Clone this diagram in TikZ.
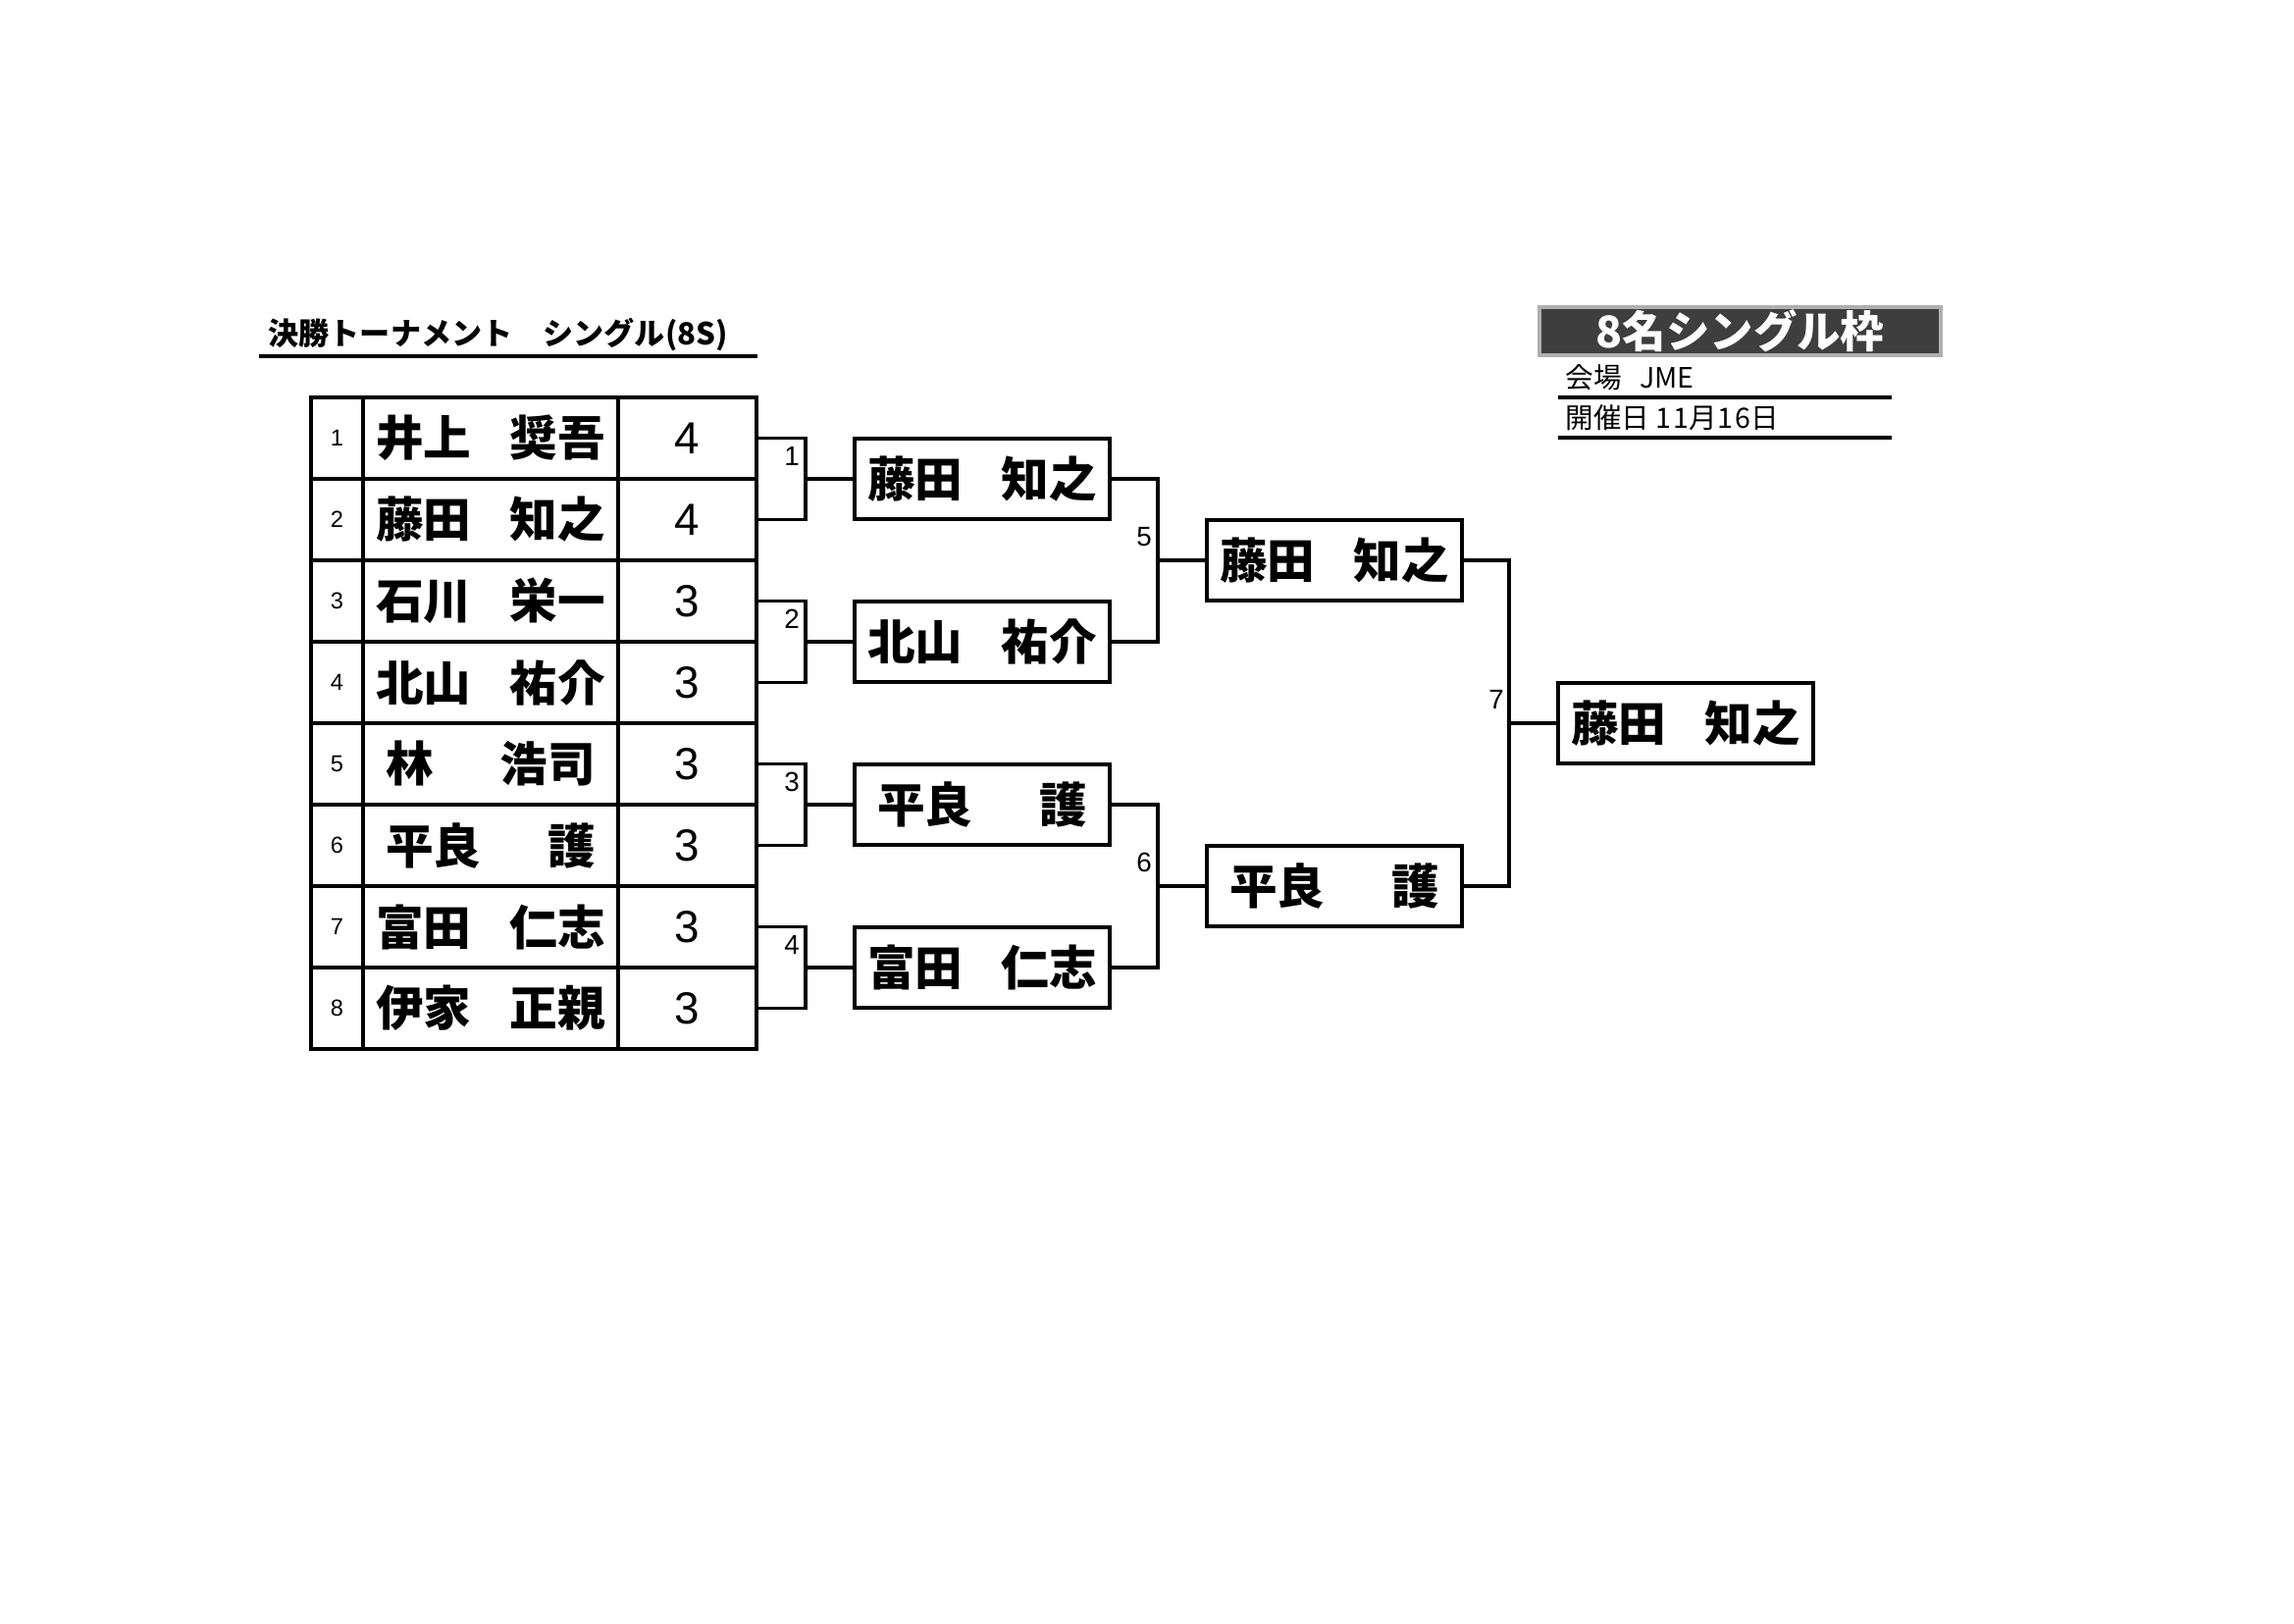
\documentclass[tikz,border=0pt]{standalone}
\usepackage{fontspec}
\setmainfont{Liberation Sans}
\newfontfamily\jp{Noto Sans CJK JP}
\usetikzlibrary{calc}
\definecolor{darkbar}{RGB}{62,62,62}
\definecolor{barborder}{RGB}{175,175,175}
\newcommand{\gap}{\hspace{0.8em}}
\newcommand{\wgap}{\hspace{1.4em}}
\begin{document}
\begin{tikzpicture}[x=0.36pt,y=-0.36pt,
  cell/.style={draw, line width=1.1pt, inner sep=0pt, outer sep=0pt, minimum height=29.88pt},
  seedc/.style={cell, minimum width=19.08pt, font=\fontsize{8.5}{9}\selectfont},
  namec/.style={cell, minimum width=93.6pt, font=\jp\bfseries\fontsize{17.5}{19}\selectfont},
  scorec/.style={cell, minimum width=50.76pt, font=\fontsize{16.5}{18}\selectfont},
  winbox/.style={draw, line width=1.1pt, inner sep=0pt, outer sep=0pt, minimum width=93.6pt, minimum height=29.52pt, font=\jp\bfseries\fontsize{17.5}{19}\selectfont},
  link/.style={line width=1.1pt},
  blabel/.style={inner sep=0pt, font=\fontsize{10}{12}\selectfont},
  infotext/.style={inner sep=0pt, anchor=west, font=\jp\fontsize{10.3}{12}\selectfont},
  rule/.style={line width=1.1pt}
]
\useasboundingbox (0,0) rectangle (2338,1654);

% title
\node[inner sep=0pt, anchor=west, font=\jp\bfseries\fontsize{11.2}{13}\selectfont] (title) at (273,341) {決勝トーナメント　シングル(8S)};
\coordinate (tl) at (264,363);
\coordinate (tr) at (772,363);
\draw[rule] (tl) -- (tr);

% header box top right
\node[draw=barborder, line width=1.2pt, fill=darkbar, text=white, inner sep=0pt,
      minimum width=147.24pt, minimum height=17.64pt,
      font=\jp\bfseries\fontsize{16}{18}\selectfont] (hdr) at (1773.5,337.5) {8名シングル枠};
\node[infotext] (venue) at (1595,385) {会場\hspace{0.65em}JME};
\coordinate (v1l) at (1588,405);
\coordinate (v1r) at (1928,405);
\draw[rule] (v1l) -- (v1r);
\node[infotext] (date) at (1595,426) {開催日 1\kern0.08em1月1\kern0.08em6日};
\coordinate (v2l) at (1588,446);
\coordinate (v2r) at (1928,446);
\draw[rule] (v2l) -- (v2r);

% table of entrants
\foreach \i/\nm/\sc in {1/{井上\gap 奨吾}/4, 2/{藤田\gap 知之}/4, 3/{石川\gap 栄一}/3, 4/{北山\gap 祐介}/3,
                        5/{林\wgap 浩司}/3, 6/{平良\wgap 護}/3, 7/{富田\gap 仁志}/3, 8/{伊家\gap 正親}/3}{
  \node[seedc]  (s\i) at (343.5,{446.5+83*(\i-1)}) {\i};
  \node[namec]  (n\i) at (500,{446.5+83*(\i-1)}) {\nm};
  \node[scorec] (p\i) at (700.5,{446.5+83*(\i-1)}) {\sc};
}

% round 1 winners
\node[winbox] (w1) at (1001,488) {藤田\gap 知之};
\node[winbox] (w2) at (1001,654) {北山\gap 祐介};
\node[winbox] (w3) at (1001,820) {平良\wgap 護};
\node[winbox] (w4) at (1001,986) {富田\gap 仁志};

% round 2 winners
\node[winbox] (v1) at (1360,571) {藤田\gap 知之};
\node[winbox] (v2) at (1360,903) {平良\wgap 護};

% champion
\node[winbox] (f) at (1718,737) {藤田\gap 知之};

% round 1 brackets
\coordinate (j1) at (821,488);
\coordinate (j2) at (821,654);
\coordinate (j3) at (821,820);
\coordinate (j4) at (821,986);
\draw[link] (p1.east) -| (j1) |- (p2.east);
\draw[link] (p3.east) -| (j2) |- (p4.east);
\draw[link] (p5.east) -| (j3) |- (p6.east);
\draw[link] (p7.east) -| (j4) |- (p8.east);
\draw[link] (j1) -- (w1.west);
\draw[link] (j2) -- (w2.west);
\draw[link] (j3) -- (w3.west);
\draw[link] (j4) -- (w4.west);
\node[blabel] (l1) at ($(j1)+(-14,-23)$) {1};
\node[blabel] (l2) at ($(j2)+(-14,-23)$) {2};
\node[blabel] (l3) at ($(j3)+(-14,-23)$) {3};
\node[blabel] (l4) at ($(j4)+(-14,-23)$) {4};

% round 2 brackets
\coordinate (k1) at (1180,571);
\coordinate (k2) at (1180,903);
\draw[link] (w1.east) -| (k1) |- (w2.east);
\draw[link] (w3.east) -| (k2) |- (w4.east);
\draw[link] (k1) -- (v1.west);
\draw[link] (k2) -- (v2.west);
\node[blabel] (l5) at ($(k1)+(-14,-24)$) {5};
\node[blabel] (l6) at ($(k2)+(-14,-24)$) {6};

% final bracket
\coordinate (m) at (1538,737);
\draw[link] (v1.east) -| (m) |- (v2.east);
\draw[link] (m) -- (f.west);
\node[blabel] (l7) at ($(m)+(-13,-24)$) {7};
\end{tikzpicture}
\end{document}
